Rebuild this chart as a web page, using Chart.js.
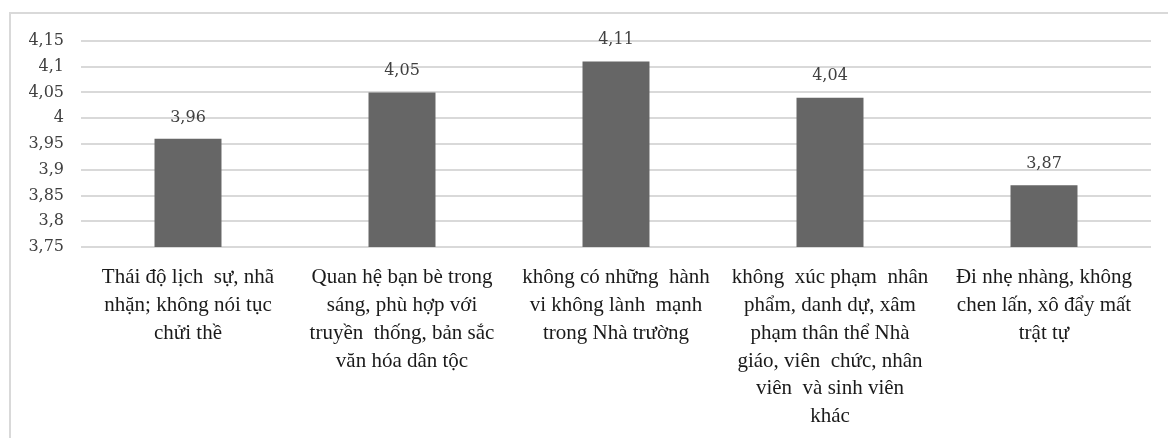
<!DOCTYPE html>
<html>
<head>
<meta charset="utf-8">
<script src="https://cdn.jsdelivr.net/npm/chart.js@4/dist/chart.umd.min.js"></script>
<style>
  html, body { margin: 0; padding: 0; background: #fff; }
  #wrap { position: relative; width: 1168px; height: 438px; overflow: hidden; }
  #frame { position: absolute; left: 9px; top: 12px; right: -10px; bottom: -10px;
           border-left: 2px solid #d9d9d9; border-top: 2px solid #d9d9d9; }
  canvas { position: absolute; left: 0; top: 0; }
  .pre { position: absolute; left: -9999px; }
</style>
</head>
<body>
<div id="wrap">
  <div id="frame"></div>
  <canvas id="c" width="1168" height="438"></canvas>
</div>
<span class="pre" style="font-family:'Liberation Serif'">Thái độ</span>
<span class="pre" style="font-family:'DejaVu Serif'">4,15</span>
<script>
// Category labels, already broken into lines
const categories = [
  ["Thái độ lịch  sự, nhã", "nhặn; không nói tục", "chửi thề"],
  ["Quan hệ bạn bè trong", "sáng, phù hợp với", "truyền  thống, bản sắc", "văn hóa dân tộc"],
  ["không có những  hành", "vi không lành  mạnh", "trong Nhà trường"],
  ["không  xúc phạm  nhân", "phẩm, danh dự, xâm", "phạm thân thể Nhà", "giáo, viên  chức, nhân", "viên  và sinh viên", "khác"],
  ["Đi nhẹ nhàng, không", "chen lấn, xô đẩy mất", "trật tự"]
];
const scores = [3.96, 4.05, 4.11, 4.04, 3.87];
const yMin = 3.75;
const yMax = 4.15;
const yStep = 0.05;

const SERIF = "'Liberation Serif', 'Times New Roman', serif";
const NUMFONT = "'DejaVu Serif', serif";

const fmt = v => String(Math.round(v * 100) / 100).replace('.', ',');

// Value labels above each bar
const valueLabels = {
  id: 'valueLabels',
  afterDatasetsDraw(chart) {
    const ctx = chart.ctx;
    const meta = chart.getDatasetMeta(0);
    ctx.save();
    ctx.font = '16px ' + NUMFONT;
    ctx.fillStyle = '#404040';
    ctx.textAlign = 'center';
    ctx.textBaseline = 'middle';
    meta.data.forEach((bar, i) => {
      ctx.fillText(fmt(scores[i]), bar.x, bar.y - 21.5);
    });
    ctx.restore();
  }
};

function draw() {
  new Chart(document.getElementById('c'), {
    type: 'bar',
    data: {
      labels: categories,
      datasets: [{
        data: scores,
        backgroundColor: '#666666',
        borderWidth: 0,
        barPercentage: 0.313,
        categoryPercentage: 1.0
      }]
    },
    options: {
      responsive: false,
      animation: false,
      events: [],
      layout: { padding: { top: 41, right: 17, left: 0, bottom: 0 } },
      plugins: { legend: { display: false }, tooltip: { enabled: false } },
      scales: {
        x: {
          grid: { display: false, drawTicks: false },
          border: { display: false },
          ticks: {
            autoSkip: false,
            maxRotation: 0,
            padding: 17,
            color: '#1a1a1a',
            font: { family: SERIF, size: 21, lineHeight: 1.32 }
          },
          afterFit(scale) { scale.height = 191; }
        },
        y: {
          min: yMin,
          max: yMax,
          grid: { color: '#d9d9d9', lineWidth: 2, drawTicks: false },
          border: { display: false },
          ticks: {
            stepSize: yStep,
            padding: 17,
            color: '#404040',
            font: { family: NUMFONT, size: 16 },
            callback: v => fmt(v)
          },
          afterFit(scale) { scale.width = 81; }
        }
      }
    },
    plugins: [valueLabels]
  });
}

Promise.all([
  document.fonts.load("21px 'Liberation Serif'"),
  document.fonts.load("16px 'DejaVu Serif'")
]).then(draw, draw);
</script>
</body>
</html>
